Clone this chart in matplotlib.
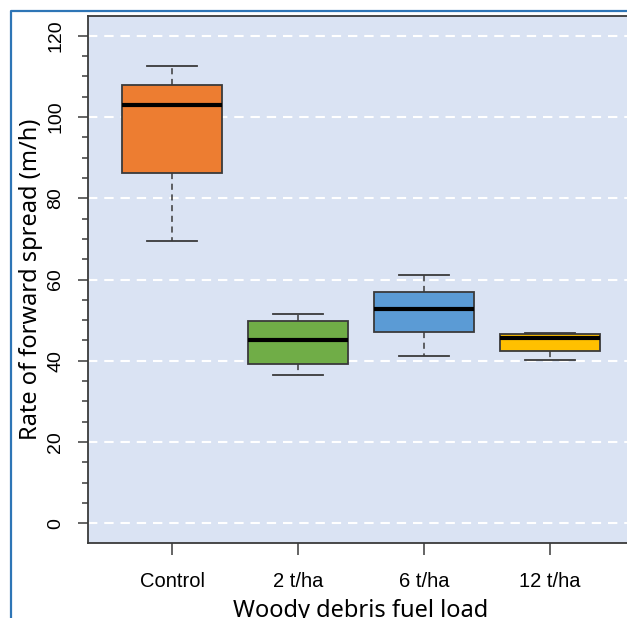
import matplotlib
matplotlib.use("Agg")
import matplotlib.pyplot as plt
from matplotlib.lines import Line2D

categories = ["Control", "2 t/ha", "6 t/ha", "12 t/ha"]
whislo = [69.5, 36.5, 41.2, 40.1]
q1 = [86.2, 39.3, 47.0, 42.5]
med = [103.0, 45.1, 52.8, 45.6]
q3 = [107.8, 49.9, 56.9, 46.6]
whishi = [112.6, 51.4, 61.1, 46.8]
colors = ["#ED7D31", "#70AD47", "#5B9BD5", "#FFC000"]
yticks = [0, 20, 40, 60, 80, 100, 120]

W, H = 627, 618
fig = plt.figure(figsize=(W / 100, H / 100), dpi=100)
ax = fig.add_axes([88 / W, (H - 543) / H, 546 / W, (543 - 16) / H])
ax.set_facecolor("#DAE3F3")

# white dashed reference lines at labelled ticks only
for y in yticks:
    ax.axhline(y, color="white", linewidth=1.5, linestyle=(0, (4.5, 3.3)), zorder=0)

stats = [
    {"whislo": lo, "q1": a, "med": m, "q3": b, "whishi": hi, "fliers": []}
    for lo, a, m, b, hi in zip(whislo, q1, med, q3, whishi)
]
bp = ax.bxp(
    stats, positions=range(1, len(categories) + 1), widths=0.8, patch_artist=True,
    boxprops=dict(edgecolor="#3a3a3a", linewidth=1.3),
    medianprops=dict(color="black", linewidth=3.0),
    whiskerprops=dict(color="#3a3a3a", linewidth=1.1, linestyle=(0, (4, 3))),
    capprops=dict(color="#3a3a3a", linewidth=1.3),
)
for box, c in zip(bp["boxes"], colors):
    box.set_facecolor(c)
    box.set_zorder(2)

ax.set_xlim(0.333, 4.667)
ax.set_ylim(-4.8, 124.8)
ax.set_xticks(range(1, len(categories) + 1))
ax.set_xticklabels(categories, family="Liberation Sans", fontsize=14.5)
ax.set_yticks(range(0, 125, 5), minor=True)
ax.set_yticks(yticks)
ax.set_yticklabels([str(v) for v in yticks], family="Liberation Sans", fontsize=14,
                   rotation=90, va="center")
ax.tick_params(axis="both", which="major", direction="out", width=1.1, color="#3a3a3a")
ax.tick_params(axis="y", which="minor", direction="out", length=4.3, width=1.1,
               color="#3a3a3a")
ax.tick_params(axis="x", which="major", length=8.6, pad=12)
ax.tick_params(axis="y", which="major", length=7.2, pad=10)
for s in ax.spines.values():
    s.set_color("#3a3a3a")
    s.set_linewidth(1.3)

ax.set_xlabel("Woody debris fuel load", family="Noto Sans", fontsize=17)
ax.xaxis.set_label_coords(0.5, -0.106)
ax.set_ylabel("Rate of forward spread (m/h)", family="Noto Sans", fontsize=17)
ax.yaxis.set_label_coords(-0.082, 0.5)

# blue outer frame, cropped at right and bottom
fig.add_artist(Line2D([11 / W, 11 / W, 1], [0, (H - 11) / H, (H - 11) / H],
                      color="#2E75B6", linewidth=1.6, transform=fig.transFigure))

fig.savefig("out.png", dpi=100)
